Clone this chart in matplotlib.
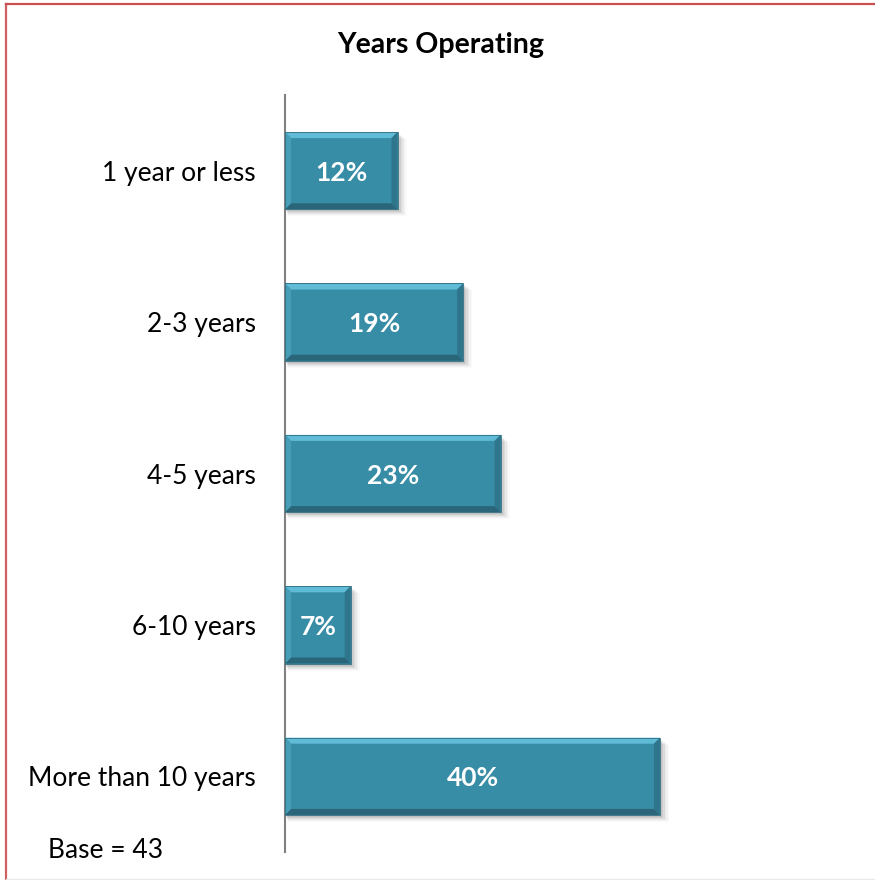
import matplotlib.pyplot as plt
from matplotlib.patches import Polygon, Rectangle
from matplotlib.lines import Line2D

plt.rcParams['font.family'] = ['Lato', 'DejaVu Sans']

categories = ['1 year or less', '2-3 years', '4-5 years', '6-10 years',
              'More than 10 years']
values = [12, 19, 23, 7, 40]
value_labels = ['12%', '19%', '23%', '7%', '40%']
title = 'Years Operating'
base_note = 'Base = 43'

W, H = 875, 880
fig = plt.figure(figsize=(W / 100, H / 100), dpi=100)

# axes box in pixels
ax_l, ax_r, ax_t, ax_b = 285, 720, 95, 852
ax = fig.add_axes([ax_l / W, 1 - ax_b / H, (ax_r - ax_l) / W, (ax_b - ax_t) / H])

xmax = 46.4
n = len(categories)
ax.set_xlim(0, xmax)
ax.set_ylim(n - 0.5, -0.5)

bar_h = 0.51
main_c = '#388da6'
face_top = '#5fbbd6'
face_left = '#479cb6'
face_right = '#2f768c'
face_bot = '#2a657a'

# pixel -> data unit conversion
px_x = xmax / (ax_r - ax_l)
px_y = n / (ax_b - ax_t)
bev = 6

for i, v in enumerate(values):
    y0, y1 = i - bar_h / 2, i + bar_h / 2
    bx, by = bev * px_x, bev * px_y
    # soft drop shadow
    for k, a in zip(range(1, 7), [0.07, 0.06, 0.05, 0.04, 0.03, 0.02]):
        ax.add_patch(Rectangle((k * 0.5 * px_x, y0 + (1 + k) * px_y), v + k * px_x,
                               bar_h, color='black', alpha=a, lw=0, zorder=1))
    ax.barh(i, v, height=bar_h, color=main_c, lw=0, zorder=2)
    # bevelled edges
    bevels = [
        ([(0, y0), (v, y0), (v - bx, y0 + by), (bx, y0 + by)], face_top),
        ([(0, y1), (v, y1), (v - bx, y1 - by), (bx, y1 - by)], face_bot),
        ([(0, y0), (bx, y0 + by), (bx, y1 - by), (0, y1)], face_left),
        ([(v, y0), (v - bx, y0 + by), (v - bx, y1 - by), (v, y1)], face_right),
    ]
    for pts, c in bevels:
        ax.add_patch(Polygon(pts, closed=True, color=c, lw=0, zorder=3))
    ax.add_patch(Rectangle((0, y0), v, bar_h, fill=False, ec='#306f83',
                           lw=0.6, zorder=4))
    ax.text(v / 2, i, value_labels[i], ha='center', va='center_baseline',
            color='white', fontsize=19, fontweight='bold', zorder=5)

ax.set_yticks(range(n))
ax.set_yticklabels(categories, fontsize=19)
ax.tick_params(axis='y', length=0, pad=21)
ax.set_xticks([])
for s in ['top', 'right', 'bottom']:
    ax.spines[s].set_visible(False)
ax.spines['left'].set_color('#808080')
ax.spines['left'].set_linewidth(1.5)
ax.patch.set_alpha(0)

fig.text(441 / W, 1 - 45 / H, title, ha='center', va='center',
         fontsize=20.5, fontweight='bold')
fig.text(48 / W, 1 - 850 / H, base_note, ha='left', va='center',
         fontsize=19)

# chart frame
fig.add_artist(Line2D([6 / W, 6 / W], [0, 1 - 4 / H], transform=fig.transFigure,
                      color='#d06060', lw=1.6))
fig.add_artist(Line2D([6 / W, 1], [1 - 4 / H, 1 - 4 / H], transform=fig.transFigure,
                      color='#c85050', lw=1.6))
fig.add_artist(Line2D([6 / W, 1], [1 - 879 / H, 1 - 879 / H], transform=fig.transFigure,
                      color='#e8e8e8', lw=1))

fig.savefig('out.png', dpi=100)
